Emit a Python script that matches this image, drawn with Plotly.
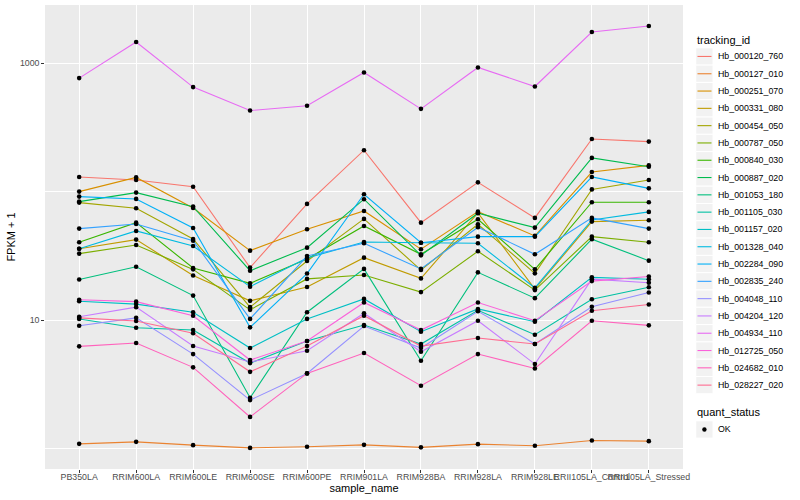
import plotly.graph_objects as go

samples = ["PB350LA", "RRIM600LA", "RRIM600LE", "RRIM600SE", "RRIM600PE", "RRIM901LA",
           "RRIM928BA", "RRIM928LA", "RRIM928LE", "RRII105LA_Control", "RRII105LA_Stressed"]

tracking_ids = ["Hb_000120_760", "Hb_000127_010", "Hb_000251_070", "Hb_000331_080", "Hb_000454_050",
                "Hb_000787_050", "Hb_000840_030", "Hb_000887_020", "Hb_001053_180", "Hb_001105_030",
                "Hb_001157_020", "Hb_001328_040", "Hb_002284_090", "Hb_002835_240", "Hb_004048_110",
                "Hb_004204_120", "Hb_004934_110", "Hb_012725_050", "Hb_024682_010", "Hb_028227_020"]

colors = ["#F8766D", "#EA8331", "#D89000", "#C09B00", "#A3A500", "#7CAE00", "#39B600", "#00BB4E",
          "#00BF7D", "#00C1A3", "#00BFC4", "#00BAE0", "#00B0F6", "#35A2FF", "#9590FF", "#C77CFF",
          "#E76BF3", "#FA62DB", "#FF62BC", "#FF6C91"]

# FPKM + 1 per sample
hb_000120_760 = [130, 123, 109, 25.6, 80.2, 210, 57.3, 118, 62.4, 257, 245]
hb_000127_010 = [1.086, 1.126, 1.061, 1.01, 1.03, 1.067, 1.02, 1.08, 1.05, 1.154, 1.14]
hb_000251_070 = [100, 129, 74.6, 34.7, 50.9, 70.7, 35.6, 69.8, 45.2, 142, 160]
hb_000331_080 = [35.9, 42.3, 22.2, 14.1, 18.1, 30.6, 21.1, 68.2, 17.4, 58.4, 59.9]
hb_000454_050 = [82.1, 74.2, 42.8, 12.6, 28.8, 61.3, 24.5, 55.7, 23.1, 104, 123]
hb_000787_050 = [32.9, 38.4, 24.8, 12.0, 20.9, 22.4, 16.5, 34.3, 17.1, 44.6, 40.3]
hb_000840_030 = [40.3, 57.3, 25.4, 19.3, 29.9, 54.0, 32.5, 60.9, 24.8, 82.7, 82.7]
hb_000887_020 = [83.6, 98.2, 76.4, 24.2, 36.6, 87.3, 31.9, 67.9, 52.4, 183, 156]
hb_001053_180 = [20.7, 26.0, 15.5, 2.48, 11.5, 25.0, 4.82, 23.5, 14.8, 42.6, 29.0]
hb_001105_030 = [10.2, 8.71, 8.36, 4.62, 6.86, 9.14, 6.50, 11.9, 7.68, 14.5, 18.0]
hb_001157_020 = [14.0, 13.3, 11.5, 6.05, 10.2, 14.6, 8.11, 12.2, 9.70, 21.5, 20.8]
hb_001328_040 = [35.9, 49.4, 37.7, 18.2, 30.4, 40.5, 40.0, 39.6, 17.8, 60.2, 69.5]
hb_002284_090 = [91.4, 87.7, 52.1, 8.77, 23.0, 95.4, 40.0, 44.6, 44.6, 130, 106]
hb_002835_240 = [51.5, 56.0, 41.5, 10.2, 31.5, 39.6, 25.0, 52.8, 32.5, 62.4, 51.5]
hb_004048_110 = [9.03, 10.4, 5.43, 2.38, 3.84, 8.98, 6.05, 11.7, 6.50, 12.7, 16.4]
hb_004204_120 = [10.6, 12.6, 6.27, 4.71, 5.76, 11.3, 5.66, 9.87, 4.54, 20.8, 19.5]
hb_004934_110 = [765, 1461, 651, 428, 466, 846, 441, 926, 658, 1748, 1946]
hb_012725_050 = [14.4, 13.9, 10.8, 4.88, 6.86, 13.7, 8.36, 13.7, 9.87, 20.1, 21.8]
hb_024682_010 = [6.24, 6.62, 4.28, 1.76, 3.84, 5.53, 3.08, 5.43, 4.20, 9.87, 9.09]
hb_028227_020 = [10.4, 9.82, 7.88, 3.95, 6.27, 10.8, 6.27, 7.24, 6.50, 11.8, 13.2]

series = [hb_000120_760, hb_000127_010, hb_000251_070, hb_000331_080, hb_000454_050,
          hb_000787_050, hb_000840_030, hb_000887_020, hb_001053_180, hb_001105_030,
          hb_001157_020, hb_001328_040, hb_002284_090, hb_002835_240, hb_004048_110,
          hb_004204_120, hb_004934_110, hb_012725_050, hb_024682_010, hb_028227_020]

quant_levels = ["OK"]

y_ticks = [10, 1000]
y_ticktext = ["10", "1000"]
y_minor = [1, 100]

FONT = "Liberation Sans, Arial, Helvetica, sans-serif"
W, H = 800, 500
PL, PR, PT, PB = 45.0, 683.5, 5.3, 468.8  # panel edges in px


def px_x(px):
    return (px - PL) / (PR - PL)


def px_y(py):
    return (PB - py) / (PB - PT)


fig = go.Figure()

for name, col, vals in zip(tracking_ids, colors, series):
    fig.add_trace(go.Scatter(x=samples, y=vals, mode="lines", name=name,
                             line=dict(color=col, width=1.1), showlegend=False,
                             hoverinfo="skip"))

for name, vals in zip(tracking_ids, series):
    fig.add_trace(go.Scatter(x=samples, y=vals, mode="markers", name=name,
                             marker=dict(color="black", size=4.6, line=dict(width=0)),
                             showlegend=False))

shapes = []
annotations = []

# legend: tracking_id
annotations.append(dict(x=px_x(696), y=px_y(40.7), xref="paper", yref="paper",
                        text="tracking_id", showarrow=False, xanchor="left", yanchor="middle",
                        font=dict(family=FONT, size=11, color="black")))
key_h = 17.28
y0 = 56.7
for i, (name, col) in enumerate(zip(tracking_ids, colors)):
    cy = y0 + i * key_h
    shapes.append(dict(type="rect", xref="paper", yref="paper",
                       x0=px_x(696.3), x1=px_x(696.3 + key_h),
                       y0=px_y(cy - key_h / 2), y1=px_y(cy + key_h / 2),
                       fillcolor="#F2F2F2", line=dict(color="white", width=1), layer="above"))
    shapes.append(dict(type="line", xref="paper", yref="paper",
                       x0=px_x(698.0), x1=px_x(712.0), y0=px_y(cy), y1=px_y(cy),
                       line=dict(color=col, width=1.1), layer="above"))
    annotations.append(dict(x=px_x(716.8), y=px_y(cy), xref="paper", yref="paper",
                            text=name, showarrow=False, xanchor="left", yanchor="middle",
                            font=dict(family=FONT, size=8.8, color="black")))

# legend: quant_status
annotations.append(dict(x=px_x(696), y=px_y(412.3), xref="paper", yref="paper",
                        text="quant_status", showarrow=False, xanchor="left", yanchor="middle",
                        font=dict(family=FONT, size=11, color="black")))
for j, lvl in enumerate(quant_levels):
    cy = 429.3 + j * key_h
    shapes.append(dict(type="rect", xref="paper", yref="paper",
                       x0=px_x(696.3), x1=px_x(696.3 + key_h),
                       y0=px_y(cy - key_h / 2), y1=px_y(cy + key_h / 2),
                       fillcolor="#F2F2F2", line=dict(color="white", width=1), layer="above"))
    cx = 696.3 + key_h / 2
    shapes.append(dict(type="circle", xref="paper", yref="paper",
                       x0=px_x(cx - 2.2), x1=px_x(cx + 2.2), y0=px_y(cy - 2.2), y1=px_y(cy + 2.2),
                       fillcolor="black", line=dict(width=0), layer="above"))
    annotations.append(dict(x=px_x(716.8), y=px_y(cy), xref="paper", yref="paper",
                            text=lvl, showarrow=False, xanchor="left", yanchor="middle",
                            font=dict(family=FONT, size=8.8, color="black")))

fig.update_layout(
    width=W, height=H,
    margin=dict(l=PL, r=W - PR, t=PT, b=H - PB, autoexpand=False),
    paper_bgcolor="white", plot_bgcolor="#EBEBEB",
    font=dict(family=FONT, size=8.8, color="#4D4D4D"),
    shapes=shapes, annotations=annotations, showlegend=False,
    xaxis=dict(type="category", range=[-0.6, 10.6], showgrid=True, gridcolor="white",
               gridwidth=1.07, zeroline=False, showline=False,
               ticks="outside", ticklen=2.75, tickwidth=1.07, tickcolor="#333333",
               tickfont=dict(family=FONT, size=8.8, color="#4D4D4D"),
               ticklabelstandoff=-3,
               title=dict(text="sample_name", font=dict(family=FONT, size=11, color="black"),
                          standoff=1),
               automargin=False, tickangle=0),
    yaxis=dict(type="log", range=[-0.160, 3.453], tickvals=y_ticks, ticktext=y_ticktext,
               showgrid=True, gridcolor="white", gridwidth=1.07, zeroline=False, showline=False,
               ticks="outside", ticklen=2.75, tickwidth=1.07, tickcolor="#333333",
               tickfont=dict(family=FONT, size=8.8, color="#4D4D4D"),
               minor=dict(tickvals=y_minor, showgrid=True, gridcolor="white", gridwidth=0.53,
                          ticks=""),
               title=dict(text="FPKM + 1", font=dict(family=FONT, size=11, color="black"),
                          standoff=2),
               automargin=False),
)

fig.write_html("out.html", config={"displayModeBar": False},
               post_script="document.body.style.margin='0';document.body.style.padding='0';")
